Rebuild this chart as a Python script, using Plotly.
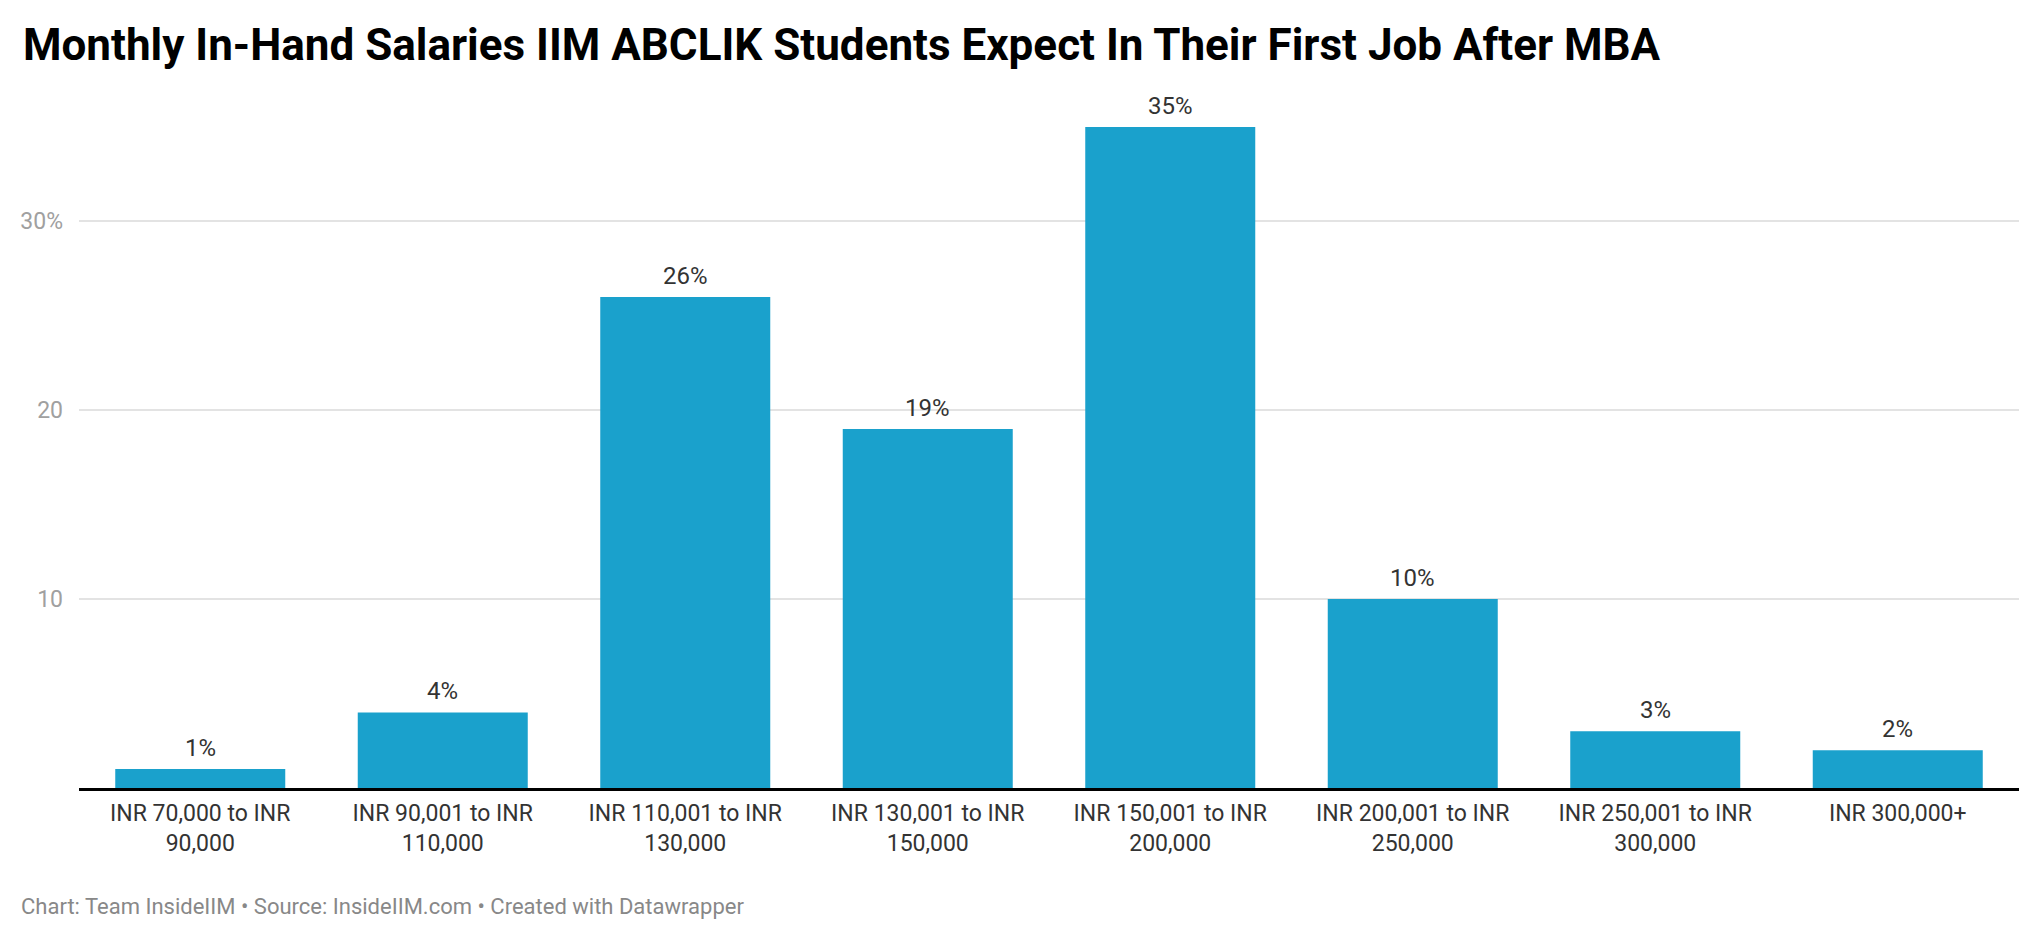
import plotly.graph_objects as go

categories = [
    "INR 70,000 to INR<br>90,000",
    "INR 90,001 to INR<br>110,000",
    "INR 110,001 to INR<br>130,000",
    "INR 130,001 to INR<br>150,000",
    "INR 150,001 to INR<br>200,000",
    "INR 200,001 to INR<br>250,000",
    "INR 250,001 to INR<br>300,000",
    "INR 300,000+",
]
values = [1, 4, 26, 19, 35, 10, 3, 2]
value_labels = ["1%", "4%", "26%", "19%", "35%", "10%", "3%", "2%"]
y_tickvals = [10, 20, 30]
y_ticktext = ["10", "20", "30%"]

title_text = "Monthly In-Hand Salaries IIM ABCLIK Students Expect In Their First Job After MBA"
footer_text = "Chart: Team InsideIIM • Source: InsideIIM.com • Created with Datawrapper"

# page has an 8px body margin, so the figure is sized to fit the window
W, H = 2032, 932
ML, MT = 71, 100
plot_w, plot_h = 1940, 680
MR = W - ML - plot_w
MB = H - MT - plot_h

fig = go.Figure()
fig.add_trace(go.Bar(
    x=categories, y=values,
    marker=dict(color="#1aa1cc", line=dict(width=0)),
    hoverinfo="skip",
))

for c, v, t in zip(categories, values, value_labels):
    fig.add_annotation(
        x=c, y=v, text=t, showarrow=False, xref="x", yref="y",
        yanchor="bottom", yshift=5,
        font=dict(family="Roboto", size=24, color="#333333"),
    )

fig.add_annotation(
    xref="paper", yref="paper", x=(11 - ML) / plot_w, y=-(898 - (MT + plot_h)) / plot_h,
    xanchor="left", yanchor="middle", showarrow=False, text=footer_text,
    font=dict(family="Roboto", size=22, color="#888888"),
)

fig.update_layout(
    width=W, height=H,
    margin=dict(l=ML, r=MR, t=MT, b=MB, pad=0),
    paper_bgcolor="white", plot_bgcolor="white",
    showlegend=False,
    bargap=0.299,
    title=dict(
        text="<b>" + title_text + "</b>",
        xref="container", yref="container",
        x=15 / W, xanchor="left",
        y=1 - 37 / H, yanchor="middle",
        font=dict(family="Roboto", size=44, color="#000000"),
    ),
    font=dict(family="Roboto"),
    xaxis=dict(
        showgrid=False, zeroline=False,
        showline=True, linecolor="#000000", linewidth=3,
        ticks="", tickfont=dict(family="Roboto", size=23, color="#333333"),
        ticklabelstandoff=2,
    ),
    yaxis=dict(
        range=[0, 36],
        tickvals=y_tickvals, ticktext=y_ticktext,
        showgrid=True, gridcolor="#e3e3e3", gridwidth=1.5,
        zeroline=False, showline=False, ticks="",
        tickfont=dict(family="Roboto", size=23, color="#a0a0a0"),
        ticklabelstandoff=15,
    ),
)

fig.write_html("out.html")
